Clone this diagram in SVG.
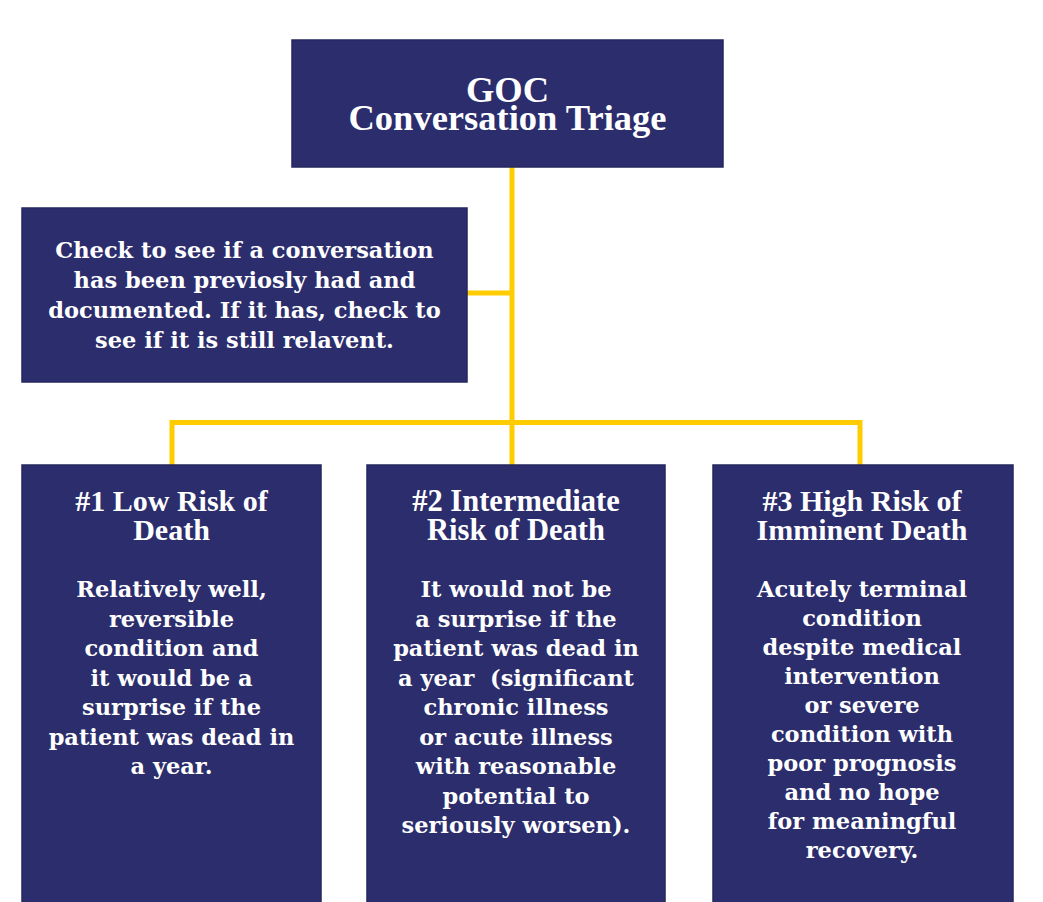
<svg xmlns="http://www.w3.org/2000/svg" width="1043" height="902" viewBox="0 0 1043 902">
<style>
.box{fill:#2b2d6c;stroke:#25275f;stroke-width:1.5}
.title{font-family:"Liberation Serif","Times New Roman",serif;font-weight:bold;fill:#ffffff;text-anchor:middle}
.body{font-family:"DejaVu Serif",serif;font-weight:bold;fill:#ffffff;text-anchor:middle;font-size:22.5px}
.conn{stroke:#ffcc00;stroke-width:5;fill:none}
</style>
<rect width="1043" height="902" fill="#ffffff"/>
<g id="connectors">
<line class="conn" x1="512" y1="167" x2="512" y2="465"/>
<line class="conn" x1="467" y1="293" x2="512" y2="293"/>
<polyline class="conn" points="172,465 172,422.5 860,422.5 860,465"/>
</g>
<g id="node-goc">
<rect class="box" x="292" y="40" width="431" height="127"/>
<text class="title" font-size="36.5"><tspan x="507.5" y="102">GOC</tspan><tspan x="507.5" y="130">Conversation Triage</tspan></text>
</g>
<g id="node-check">
<rect class="box" x="22" y="208" width="445" height="174"/>
<text class="body" x="244.5" y="258">Check to see if a conversation</text>
<text class="body" x="244.5" y="288">has been previosly had and</text>
<text class="body" x="244.5" y="318">documented. If it has, check to</text>
<text class="body" x="244.5" y="348">see if it is still relavent.</text>
</g>
<g id="node-low">
<rect class="box" x="22" y="465" width="299" height="445"/>
<text class="title" font-size="30"><tspan x="171.5" y="511">#1 Low Risk of</tspan><tspan x="171.5" y="540">Death</tspan></text>
<text class="body" x="171.5" y="597">Relatively well,</text>
<text class="body" x="171.5" y="626.5">reversible</text>
<text class="body" x="171.5" y="656">condition and</text>
<text class="body" x="171.5" y="685.5">it would be a</text>
<text class="body" x="171.5" y="715">surprise if the</text>
<text class="body" x="171.5" y="744.5">patient was dead in</text>
<text class="body" x="171.5" y="774">a year.</text>
</g>
<g id="node-intermediate">
<rect class="box" x="367" y="465" width="298" height="445"/>
<text class="title" font-size="30.5"><tspan x="516" y="511">#2 Intermediate</tspan><tspan x="516" y="540">Risk of Death</tspan></text>
<text class="body" x="516" y="597">It would not be</text>
<text class="body" x="516" y="626.5">a surprise if the</text>
<text class="body" x="516" y="656">patient was dead in</text>
<text class="body" x="516" y="685.5" xml:space="preserve">a year  (significant</text>
<text class="body" x="516" y="715">chronic illness</text>
<text class="body" x="516" y="744.5">or acute illness</text>
<text class="body" x="516" y="774">with reasonable</text>
<text class="body" x="516" y="803.5">potential to</text>
<text class="body" x="516" y="833">seriously worsen).</text>
</g>
<g id="node-high">
<rect class="box" x="713" y="465" width="300" height="445"/>
<text class="title" font-size="30"><tspan x="862" y="511">#3 High Risk of</tspan><tspan x="862" y="540">Imminent Death</tspan></text>
<text class="body" x="862" y="597">Acutely terminal</text>
<text class="body" x="862" y="626">condition</text>
<text class="body" x="862" y="655">despite medical</text>
<text class="body" x="862" y="684">intervention</text>
<text class="body" x="862" y="713">or severe</text>
<text class="body" x="862" y="742">condition with</text>
<text class="body" x="862" y="771">poor prognosis</text>
<text class="body" x="862" y="800">and no hope</text>
<text class="body" x="862" y="829">for meaningful</text>
<text class="body" x="862" y="858">recovery.</text>
</g>
</svg>
